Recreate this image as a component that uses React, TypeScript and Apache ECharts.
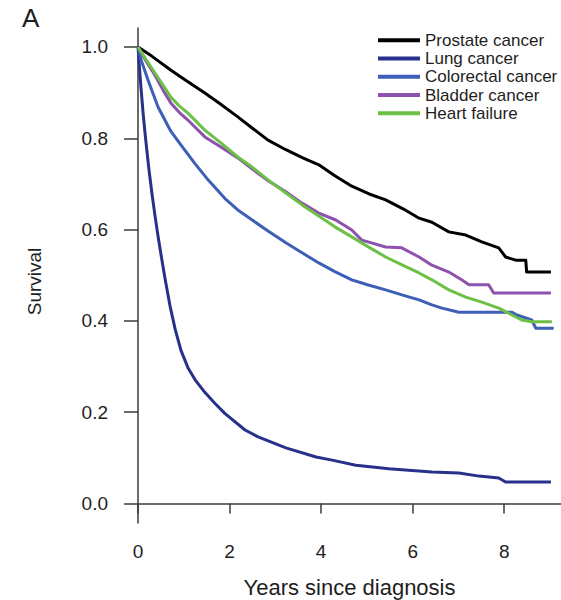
import React, { useEffect, useRef } from "react";
import * as echarts from "echarts";

const seriesNames = ["Prostate cancer", "Lung cancer", "Colorectal cancer", "Bladder cancer", "Heart failure"];
const seriesColors = ["#000000", "#27308a", "#3d5fb8", "#8c52ad", "#6dc046"];

const xTicks = [0, 2, 4, 6, 8];
const yTicks = [0, 0.2, 0.4, 0.6, 0.8, 1.0];

const prostateYears = [0, 0.3, 0.72, 1.0, 1.46, 1.8, 2.18, 2.5, 2.84, 3.23, 3.6, 3.95, 4.3, 4.67, 5.05, 5.41, 5.8, 6.14, 6.42, 6.79, 7.16, 7.51, 7.88, 8.03, 8.25, 8.47, 8.49, 9.02];
const prostateSurv = [1.0, 0.98, 0.949, 0.93, 0.899, 0.875, 0.847, 0.822, 0.796, 0.775, 0.757, 0.742, 0.718, 0.695, 0.678, 0.665, 0.645, 0.625, 0.616, 0.595, 0.588, 0.573, 0.56, 0.54, 0.533, 0.533, 0.507, 0.507];

const lungYears = [0, 0.033, 0.066, 0.109, 0.153, 0.197, 0.24, 0.306, 0.372, 0.437, 0.503, 0.59, 0.699, 0.809, 0.94, 1.093, 1.268, 1.465, 1.683, 1.902, 2.339, 2.623, 3.23, 3.89, 4.24, 4.76, 5.48, 6.42, 7.01, 7.45, 7.88, 8.03, 9.02];
const lungSurv = [1.0, 0.954, 0.91, 0.858, 0.812, 0.77, 0.731, 0.678, 0.63, 0.586, 0.545, 0.493, 0.433, 0.383, 0.335, 0.297, 0.268, 0.243, 0.219, 0.197, 0.161, 0.146, 0.122, 0.102, 0.095, 0.084, 0.076, 0.069, 0.067, 0.06, 0.056, 0.047, 0.047];

const colorectalYears = [0, 0.07, 0.22, 0.44, 0.72, 0.94, 1.24, 1.53, 1.9, 2.18, 2.55, 2.84, 3.23, 3.6, 3.95, 4.3, 4.67, 5.05, 5.41, 5.8, 6.14, 6.42, 6.64, 7.01, 8.17, 8.28, 8.6, 8.69, 9.08];
const colorectalSurv = [1.0, 0.971, 0.927, 0.868, 0.815, 0.785, 0.745, 0.709, 0.668, 0.643, 0.617, 0.597, 0.571, 0.548, 0.527, 0.508, 0.49, 0.478, 0.468, 0.456, 0.446, 0.435, 0.428, 0.419, 0.419, 0.413, 0.402, 0.384, 0.384];

const bladderYears = [0, 0.2, 0.37, 0.55, 0.72, 0.9, 1.09, 1.27, 1.46, 1.81, 2.18, 2.49, 2.86, 3.23, 3.58, 3.95, 4.32, 4.67, 4.89, 5.41, 5.76, 6.14, 6.42, 6.79, 7.07, 7.23, 7.66, 7.77, 9.02];
const bladderSurv = [1.0, 0.965, 0.938, 0.905, 0.877, 0.857, 0.84, 0.822, 0.803, 0.781, 0.757, 0.733, 0.706, 0.683, 0.658, 0.636, 0.621, 0.599, 0.577, 0.562, 0.56, 0.54, 0.522, 0.507, 0.49, 0.479, 0.479, 0.461, 0.461];

const heartYears = [0, 0.2, 0.37, 0.55, 0.72, 0.9, 1.09, 1.46, 1.81, 2.18, 2.49, 2.84, 3.23, 3.6, 3.95, 4.3, 4.67, 5.05, 5.41, 5.8, 6.14, 6.42, 6.79, 7.16, 7.51, 7.88, 8.17, 8.38, 8.6, 9.04];
const heartSurv = [1.0, 0.969, 0.943, 0.916, 0.89, 0.871, 0.855, 0.818, 0.79, 0.759, 0.737, 0.709, 0.68, 0.653, 0.63, 0.606, 0.584, 0.561, 0.54, 0.521, 0.505, 0.49, 0.468, 0.452, 0.441, 0.428, 0.413, 0.402, 0.398, 0.398];

const allYears = [prostateYears, lungYears, colorectalYears, bladderYears, heartYears];
const allSurv = [prostateSurv, lungSurv, colorectalSurv, bladderSurv, heartSurv];

const FONT = "'Liberation Sans', Arial, Helvetica, sans-serif";
const AXIS_COLOR = "#3a3a3a";
const TEXT_COLOR = "#1e1e1e";

export default function App() {
  const ref = useRef<HTMLDivElement>(null);

  useEffect(() => {
    if (!ref.current) return;
    const chart = echarts.init(ref.current, null, { renderer: "svg" });

    const series = seriesNames.map((name, i) => ({
      name,
      type: "line",
      data: allYears[i].map((x, j) => [x, allSurv[i][j]]),
      showSymbol: false,
      symbol: "none",
      lineStyle: { color: seriesColors[i], width: 3, join: "round" },
      itemStyle: { color: seriesColors[i] },
      z: 2 + i,
    }));

    chart.setOption({
      animation: false,
      backgroundColor: "#ffffff",
      textStyle: { fontFamily: FONT },
      grid: { left: 138, right: 0, top: 28, bottom: 77, containLabel: false, outerBoundsMode: "none" },
      legend: {
        data: seriesNames,
        orient: "vertical",
        left: 378,
        top: 31,
        padding: 0,
        itemGap: 0,
        itemWidth: 42,
        itemHeight: 4,
        icon: "rect",
        textStyle: { fontFamily: FONT, fontSize: 17, color: TEXT_COLOR, lineHeight: 18.3 },
      },
      graphic: [
        {
          type: "text",
          left: 22,
          top: 5,
          style: { text: "A", font: `26px ${FONT}`, fill: TEXT_COLOR },
        },
      ],
      xAxis: {
        type: "value",
        min: 0,
        max: 9.24,
        interval: 2,
        name: "Years since diagnosis",
        nameLocation: "middle",
        nameGap: 53,
        nameTextStyle: { fontFamily: FONT, fontSize: 22, color: TEXT_COLOR },
        axisLine: { show: true, lineStyle: { color: AXIS_COLOR, width: 1.5 } },
        axisTick: { show: true, length: 10, lineStyle: { color: AXIS_COLOR, width: 1.5 }, customValues: xTicks },
        axisLabel: { fontFamily: FONT, fontSize: 19, color: TEXT_COLOR, margin: 19, customValues: xTicks },
        splitLine: { show: false },
      },
      yAxis: {
        type: "value",
        min: -0.0427,
        max: 1.0416,
        name: "Survival",
        nameLocation: "middle",
        nameGap: 94,
        nameTextStyle: { fontFamily: FONT, fontSize: 19, color: TEXT_COLOR, padding: [0, 12, 0, 0] },
        axisLine: { show: true, lineStyle: { color: AXIS_COLOR, width: 1.5 } },
        axisTick: { show: true, length: 14, lineStyle: { color: AXIS_COLOR, width: 1.5 }, customValues: yTicks },
        axisLabel: {
          fontFamily: FONT,
          fontSize: 19,
          color: TEXT_COLOR,
          margin: 30,
          customValues: yTicks,
          formatter: (v: number) => v.toFixed(1),
        },
        splitLine: { show: false },
      },
      series,
    });

    return () => chart.dispose();
  }, []);

  return (
    <div
      ref={ref}
      style={{ position: "absolute", left: 0, top: 0, width: 561, height: 600, background: "#fff" }}
    />
  );
}
